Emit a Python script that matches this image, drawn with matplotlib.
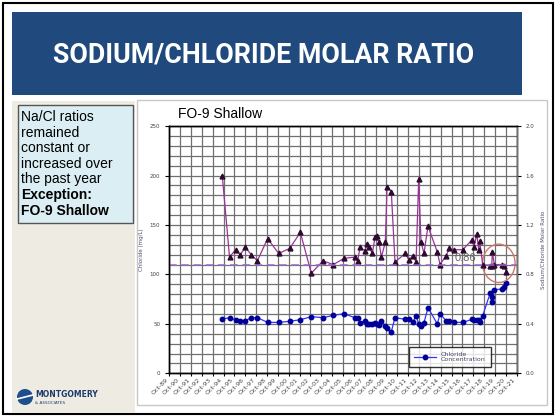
import matplotlib
matplotlib.use("Agg")
import matplotlib.pyplot as plt
from matplotlib.patches import Rectangle, Ellipse, Circle
from matplotlib.ticker import MultipleLocator, FixedLocator

# sample dates as decimal years (Oct = .75)
sample_year = [1994.63, 1995.30, 1995.86, 1996.29, 1996.75, 1997.30, 1997.86, 1998.81,
               1999.82, 2000.84, 2001.82, 2002.83, 2003.91, 2004.86, 2005.84, 2006.83,
               2007.10, 2007.32, 2007.78, 2007.93, 2008.18, 2008.45, 2008.70, 2008.85,
               2009.07, 2009.28, 2009.65, 2009.81, 2010.20, 2010.54, 2011.49, 2011.80,
               2012.20, 2012.48, 2012.72, 2012.94, 2013.21, 2013.58, 2014.44, 2014.69,
               2015.24, 2015.55, 2015.98, 2016.78, 2017.64, 2017.82, 2018.07, 2018.25,
               2018.34, 2018.62, 2019.30, 2019.45, 2019.51, 2019.69, 2020.37, 2020.62,
               2020.80]

# Na/Cl molar ratio (right axis)
na_cl_ratio = [1.60, 0.94, 1.00, 0.96, 1.02, 0.96, 0.91, 1.09,
               0.97, 1.01, 1.14, 0.81, 0.91, 0.88, 0.93, 0.94,
               0.91, 1.02, 0.99, 1.05, 1.02, 0.97, 1.10, 1.11,
               1.06, 0.94, 1.06, 1.51, 1.47, 0.90, 0.97, 0.92,
               0.95, 0.90, 1.57, 1.06, 0.97, 1.19, 0.98, 0.88,
               0.95, 1.01, 1.00, 1.00, 1.08, 1.02, 1.13, 1.00,
               1.07, 0.88, 0.87, 0.87, 0.98, 0.88, 0.88, 0.87,
               0.82]

# chloride concentration, mg/L (left axis)
chloride = [55.3, 56.0, 54.2, 53.2, 53.2, 56.3, 56.3, 51.5,
            51.5, 52.6, 54.2, 57.3, 56.3, 58.6, 60.3, 56.3,
            56.3, 50.5, 53.2, 50.2, 49.5, 49.5, 50.5, 49.9,
            48.5, 53.2, 47.8, 46.2, 42.1, 56.3, 54.6, 54.6,
            51.9, 58.3, 49.9, 47.8, 51.2, 66.4, 49.9, 60.3,
            53.2, 52.6, 51.5, 51.5, 54.6, 53.9, 53.9, 54.2,
            52.2, 58.3, 80.9, 71.8, 77.5, 84.6, 85.2, 87.6,
            91.0]

ratio_ref = 0.88
ratio_ref_label = "0.86"
tick_years = list(range(1989, 2022))
tick_labels = [f"Oct-{y % 100:02d}" for y in tick_years]

side_text = ["Na/Cl ratios", "remained", "constant or", "increased over", "the past year"]
side_bold = ["Exception:", "FO-9 Shallow"]

ARIAL = ["Liberation Sans", "DejaVu Sans"]

fig = plt.figure(figsize=(5.55, 4.19), dpi=100)

# slide background, drawn in pixel coords
bg = fig.add_axes([0, 0, 1, 1])
bg.set_xlim(0, 555)
bg.set_ylim(419, 0)
bg.axis("off")
bg.add_patch(Rectangle((3, 3), 550, 411, facecolor="white", edgecolor="black", lw=1.5))
bg.add_patch(Rectangle((12, 12), 510, 83, facecolor="#204A7E", edgecolor="none"))
bg.text(264, 55, "SODIUM/CHLORIDE MOLAR RATIO", color="white", fontsize=19.3,
        fontweight="bold", ha="center", va="center",
        family=["Liberation Sans Narrow", "Roboto", "DejaVu Sans"])
bg.add_patch(Rectangle((12, 101), 123, 312, facecolor="#EEECE2", edgecolor="none"))
bg.add_patch(Rectangle((137, 100), 410, 305, facecolor="white", edgecolor="#C8C8C8", lw=1))
bg.add_patch(Rectangle((18, 105), 115, 118, facecolor="#DBEEF4", edgecolor="#555555", lw=1))
for i, line in enumerate(side_text + side_bold):
    bg.text(21, 117 + i * 15.6, line, fontsize=10, va="center", ha="left",
            fontweight="bold" if line in side_bold else "normal", color="black",
            family=ARIAL)
# logo
bg.add_patch(Circle((25, 397), 8, facecolor="#1F4E8C", edgecolor="none"))
bg.plot([17, 33], [399, 395], color="white", lw=1.2)
bg.text(35, 394, "MONTGOMERY", fontsize=5.5, fontweight="bold", color="#1F3A6B", va="center")
bg.text(35, 403, "& ASSOCIATES", fontsize=3, color="#1F3A6B", va="center")

# chart
ax = fig.add_axes([0.305, 0.109, 0.626, 0.590])
ax2 = ax.twinx()

ax.set_xlim(1989.75, 2021.75)
ax.set_ylim(0, 250)
ax2.set_ylim(0, 2.0)
ax.xaxis.set_major_locator(FixedLocator([y + 0.75 for y in tick_years]))
ax.set_xticklabels(tick_labels, rotation=45, ha="right", fontsize=4.5, color="#444444")
ax.yaxis.set_major_locator(MultipleLocator(50))
ax.yaxis.set_minor_locator(MultipleLocator(10))
ax2.yaxis.set_major_locator(MultipleLocator(0.4))
ax2.set_yticklabels([f"{v:.1f}" for v in ax2.get_yticks()])
ax.tick_params(axis="y", labelsize=4, labelcolor="#444444", length=3, width=0.8)
ax.tick_params(axis="y", which="minor", length=0)
ax.tick_params(axis="x", length=2, width=0.8, pad=1)
ax2.tick_params(axis="y", labelsize=4, labelcolor="#444444", length=3, width=0.8)
ax.grid(True, which="major", color="#707070", lw=0.9)
ax.grid(True, which="minor", axis="y", color="#707070", lw=0.9)
ax.set_axisbelow(True)
for a in (ax, ax2):
    for s in a.spines.values():
        s.set_color("black")
        s.set_linewidth(1)
ax2.spines["right"].set_color("#707070")

ax.set_ylabel("Chloride (mg/L)", fontsize=4, color="#505070", labelpad=4)
ax2.set_ylabel("Sodium/Chloride Molar Ratio", fontsize=4, color="#505070", labelpad=4)

cl_line, = ax.plot(sample_year, chloride, color="#3333FF", lw=0.9, marker="o",
                   markersize=3.2, markerfacecolor="#000099", markeredgecolor="#000099",
                   label="Chloride\nConcentration")
ax2.plot(sample_year, na_cl_ratio, color="#993399", lw=0.9, marker="^",
         markersize=3.5, markerfacecolor="#2E0A2E", markeredgecolor="#2E0A2E")
ax2.axhline(ratio_ref, color="#9966CC", lw=1.1, ls=(0, (5, 3)))
ax2.text(2017.0, 0.935, ratio_ref_label, fontsize=8, color="#666666",
         ha="center", va="center", family=ARIAL)
ax2.add_patch(Ellipse((2020.1, 0.89), 3.0, 0.31, facecolor="none", edgecolor="#D07868", lw=1))

leg = ax2.legend(handles=[cl_line], loc="center", bbox_to_anchor=(0.808, 0.066),
                 fontsize=4.5, frameon=True, fancybox=False, edgecolor="black",
                 handlelength=3.5, borderpad=0.8)
leg.get_frame().set_linewidth(1)
for t in leg.get_texts():
    t.set_color("#444466")

fig.text(178 / 555, 1 - 114 / 419, "FO-9 Shallow", fontsize=10, va="center", ha="left",
         family=ARIAL)

fig.savefig("out.png", dpi=100)
